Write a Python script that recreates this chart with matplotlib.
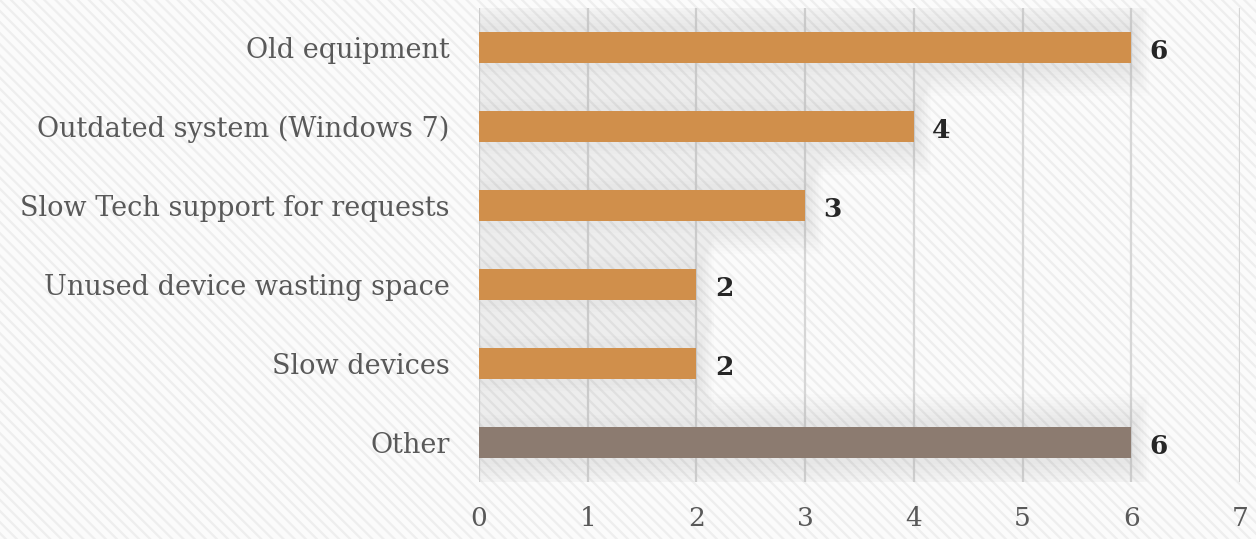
import matplotlib
matplotlib.use("Agg")
import matplotlib.pyplot as plt
from matplotlib.patches import Rectangle

categories = ["Old equipment", "Outdated system (Windows 7)", "Slow Tech support for requests",
              "Unused device wasting space", "Slow devices", "Other"]
values = [6, 4, 3, 2, 2, 6]
bar_colors = ["#D08F4B", "#D08F4B", "#D08F4B", "#D08F4B", "#D08F4B", "#8C7B70"]
x_ticks = [0, 1, 2, 3, 4, 5, 6, 7]

plt.rcParams["hatch.linewidth"] = 1.6
plt.rcParams["font.family"] = ["DejaVu Serif"]

W, H = 12.56, 5.39
fig = plt.figure(figsize=(W, H), dpi=100)
fig.patch.set_facecolor("#fbfbfb")
# diagonal striped backdrop
fig.patches.append(Rectangle((0, 0), 1, 1, transform=fig.transFigure, facecolor="#fbfbfb",
                             edgecolor="#eeeeee", hatch="\\\\\\", linewidth=0, zorder=-10))

ax = fig.add_axes([479 / 1256, 1 - 482 / 539, (1240 - 479) / 1256, (482 - 8) / 539])
ax.set_facecolor("none")

ypos = list(range(len(categories)))
bar_h = 0.39

# soft shadow behind each bar
n_layers = 10
for y, v in zip(ypos, values):
    for i in range(n_layers):
        f = (i + 1) / n_layers
        pad_y = 0.04 + 0.38 * f
        pad_x = 0.02 + 0.14 * f
        ax.add_patch(Rectangle((0, y - bar_h / 2 - pad_y), v + pad_x, bar_h + 2 * pad_y,
                               facecolor="#7a7a7a", alpha=0.013, linewidth=0, zorder=1))

ax.barh(ypos, values, height=bar_h, color=bar_colors, zorder=3)

for y, v in zip(ypos, values):
    ax.text(v + 0.17, y + 0.05, str(v), ha="left", va="center", fontsize=19,
            fontweight="bold", color="#262626", zorder=4)

ax.set_xlim(0, 7)
ax.set_ylim(len(categories) - 0.5, -0.5)
ax.set_xticks(x_ticks)
ax.set_xticklabels([str(t) for t in x_ticks])
ax.set_yticks(ypos)
ax.set_yticklabels(categories)
ax.tick_params(axis="y", length=0, pad=21, labelsize=19.5, labelcolor="#595959")
ax.tick_params(axis="x", length=0, pad=17, labelsize=19, labelcolor="#595959")
ax.grid(axis="x", color="#d6d6d6", linewidth=1.6, zorder=0)
ax.set_axisbelow(True)
for s in ax.spines.values():
    s.set_visible(False)

fig.savefig("out.png", dpi=100, facecolor=fig.get_facecolor())
